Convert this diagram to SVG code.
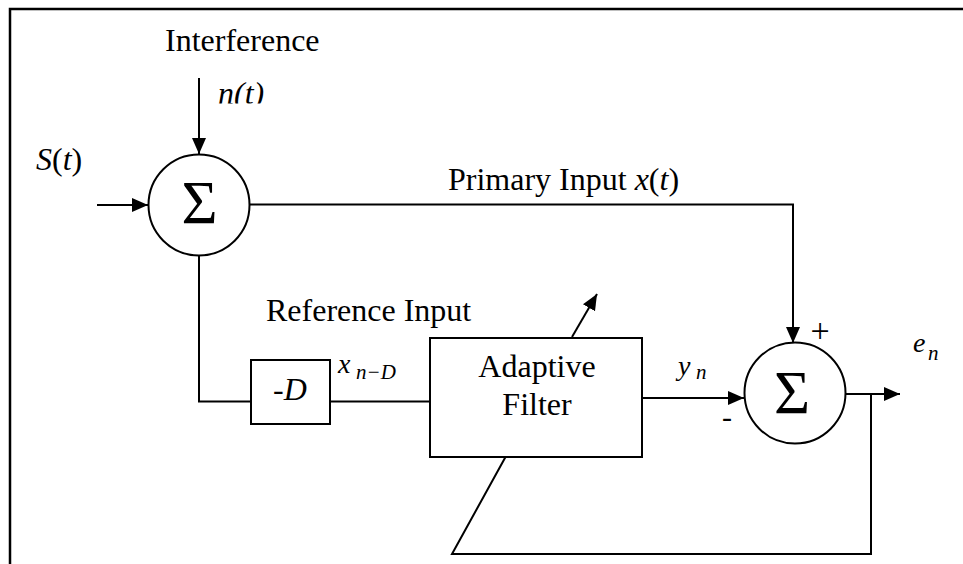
<svg xmlns="http://www.w3.org/2000/svg" width="963" height="564" viewBox="0 0 963 564">
<style>
  .ln{fill:none;stroke:#000;stroke-width:2}
  .box{fill:#fff;stroke:#000;stroke-width:2}
  .t{font-family:"Liberation Serif","Times New Roman",serif;fill:#000}
  .lbl{font-size:32px}
  .it{font-style:italic}
  .sig{font-size:62px}
  .sub{font-size:21px;font-style:italic}
</style>
<defs>
  <marker id="ah" markerUnits="userSpaceOnUse" markerWidth="17" markerHeight="15" refX="16" refY="7" orient="auto">
    <path d="M0,0 L16,7 L0,14 z" fill="#000"/>
  </marker>
  <clipPath id="clipN"><rect x="200" y="60" width="100" height="43.5"/></clipPath>
</defs>
<rect width="963" height="564" fill="#fff"/>
<path d="M10,564 V9 H963" fill="none" stroke="#000" stroke-width="2.5"/>

<g id="connectors">
  <path class="ln" d="M199,78 V154" marker-end="url(#ah)"/>
  <path class="ln" d="M97,205 H148" marker-end="url(#ah)"/>
  <path class="ln" d="M249,204.5 H793 V343" marker-end="url(#ah)"/>
  <path class="ln" d="M199,256 V401.5 H251"/>
  <path class="ln" d="M330,401.5 H430"/>
  <path class="ln" d="M642,398 H744" marker-end="url(#ah)"/>
  <path class="ln" d="M846,394 H900" marker-end="url(#ah)"/>
  <path class="ln" d="M871,394 V554 H452 L505.5,457"/>
  <path class="ln" d="M572,337 L597,294" marker-end="url(#ah)"/>
</g>

<g id="sum1">
  <circle class="box" cx="199" cy="205" r="50.5"/>
  <text class="t sig" x="199.5" y="223" text-anchor="middle">Σ</text>
</g>
<g id="sum2">
  <circle class="box" cx="795" cy="393" r="50.5"/>
  <text class="t sig" x="792" y="413" text-anchor="middle">Σ</text>
  <text class="t" x="820" y="342" font-size="34" text-anchor="middle">+</text>
  <text class="t" x="727" y="427" font-size="30" text-anchor="middle">-</text>
</g>
<g id="delay">
  <rect class="box" x="251" y="360" width="79" height="64"/>
  <text class="t it" x="290" y="400" font-size="32" text-anchor="middle">-D</text>
</g>
<g id="filter">
  <rect class="box" x="430" y="338" width="212" height="119"/>
  <text class="t lbl" x="537" y="377" text-anchor="middle">Adaptive</text>
  <text class="t lbl" x="537" y="415" text-anchor="middle">Filter</text>
</g>

<g id="labels">
  <text class="t lbl" x="165" y="51">Interference</text>
  <text class="t lbl it" x="218" y="104" clip-path="url(#clipN)">n(t)</text>
  <text class="t" x="36" y="170" font-size="32"><tspan font-style="italic">S</tspan>(<tspan font-style="italic">t</tspan>)</text>
  <text class="t lbl" x="448" y="190">Primary Input <tspan font-style="italic">x</tspan>(<tspan font-style="italic">t</tspan>)</text>
  <text class="t lbl" x="266" y="321">Reference Input</text>
  <text class="t it" x="338" y="373" font-size="28">x</text>
  <text class="t sub" x="356" y="379">n−D</text>
  <text class="t it" x="678" y="375" font-size="28">y</text>
  <text class="t sub" x="696" y="379">n</text>
  <text class="t it" x="913" y="352" font-size="28">e</text>
  <text class="t sub" x="928" y="360">n</text>
</g>
</svg>
